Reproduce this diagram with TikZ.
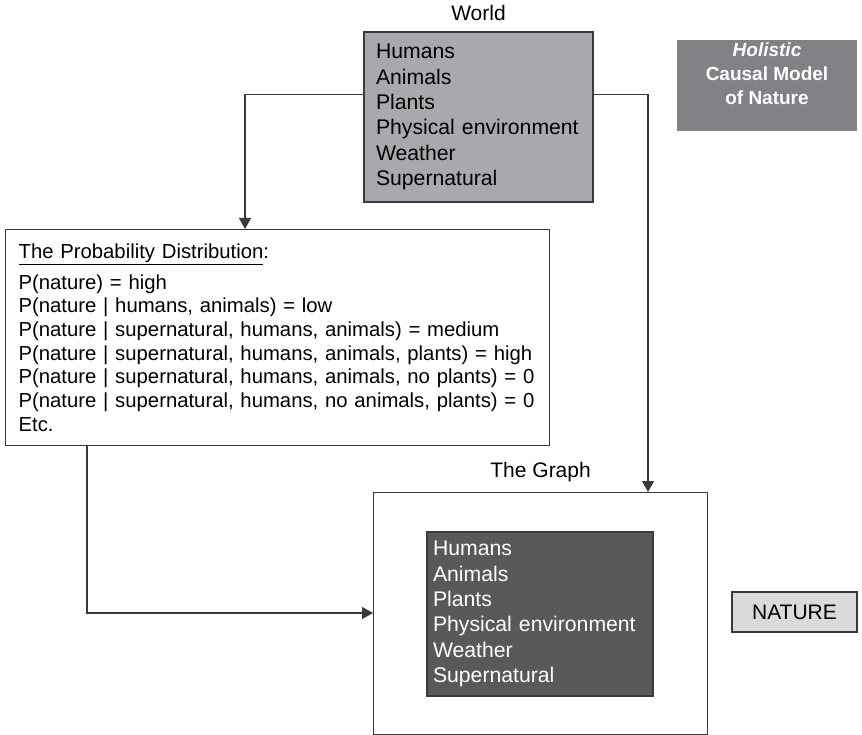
\documentclass[tikz,border=0pt]{standalone}
\usepackage{fontspec}
\setmainfont{Liberation Sans}
\usetikzlibrary{arrows.meta, positioning}
\definecolor{worldgray}{HTML}{A7A9AC}
\definecolor{holgray}{HTML}{808285}
\definecolor{graphgray}{HTML}{58595B}
\definecolor{naturegray}{HTML}{D9DADB}
\definecolor{edgegray}{HTML}{3A3A3C}
\tikzset{>={Triangle[length=11pt,width=12pt]}}
\tikzset{
  box/.style={draw=edgegray, line width=1.2pt, rectangle, inner sep=0pt},
  listbox/.style={box, align=left, inner xsep=12pt, font=\fontsize{21.2}{25.3}\selectfont},
  caption/.style={inner sep=0pt, font=\fontsize{21}{25}\selectfont},
}

\begin{document}
\begin{tikzpicture}[x=1pt, y=-1pt]
    \useasboundingbox (0,0) rectangle (862,735);
    \node[listbox, fill=worldgray, minimum width=229pt, minimum height=170pt, text width=205pt] (world) at (478.5,117)
        {Humans\\Animals\\Plants\\Physical environment\\Weather\\Supernatural};
    \node[caption, above=10pt of world] (worldlabel) {World};
    \node[box, draw=none, fill=holgray, minimum width=180pt, minimum height=91pt] (holistic) at (767,85.5) {};
    \node[anchor=north, inner sep=0pt, align=center, text=white, font=\fontsize{19}{24}\bfseries\selectfont] (holistictext) at ([yshift=-3pt]holistic.north)
        {\textit{Holistic}\\Causal Model\\of Nature};
    \node[listbox, fill=white, anchor=north west, minimum height=216pt, text width=518pt, inner xsep=13pt, font=\fontsize{20.3}{23.7}\selectfont] (prob) at (5,229)
        {\underline{The Probability Distribution}:\\[7pt]
         P(nature) = high\\
         P(nature | humans, animals) = low\\
         P(nature | supernatural, humans, animals) = medium\\
         P(nature | supernatural, humans, animals, plants) = high\\
         P(nature | supernatural, humans, animals, no plants) = 0\\
         P(nature | supernatural, humans, no animals, plants) = 0\\
         Etc.};
    \node[box, fill=white, anchor=north west, minimum width=334pt, minimum height=242pt] (graph) at (373,492) {};
    \node[caption, above=10pt of graph] (graphlabel) {The Graph};
    \node[listbox, fill=graphgray, text=white, minimum width=226pt, minimum height=164pt, inner xsep=6pt, text width=214pt] (graphlist) at (540,614)
        {Humans\\Animals\\Plants\\Physical environment\\Weather\\Supernatural};
    \node[box, fill=naturegray, minimum width=125pt, minimum height=40pt, font=\fontsize{21}{25}\selectfont] (nature) at (794.5,612) {NATURE};
    \draw[edgegray, line width=1.2pt, ->] ([yshift=-63pt]world.north west) -| ([xshift=240pt]prob.north west);
    \draw[edgegray, line width=1.2pt, ->] ([yshift=-63pt]world.north east) -| ([xshift=275pt]graph.north west);
    \draw[edgegray, line width=1.2pt, ->] ([xshift=82pt]prob.south west) |- ([yshift=-121pt]graph.north west);
\end{tikzpicture}
\end{document}
